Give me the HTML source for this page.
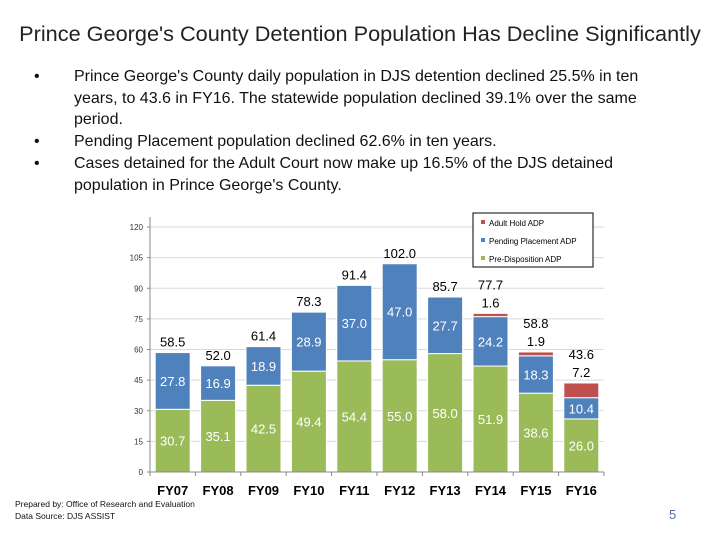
<!DOCTYPE html>
<html><head><meta charset="utf-8"><style>
body{margin:0;width:720px;height:540px;background:#fff;font-family:"Liberation Sans",sans-serif;overflow:hidden;position:relative}
.t{position:absolute;left:0;width:720px;top:21px;text-align:center;font-size:21.7px;color:#222;white-space:nowrap}
ul{position:absolute;left:30px;top:66px;margin:0;padding:0;list-style:none;width:630px;font-size:16px;line-height:21.7px;color:#111}
li{position:relative;padding-left:44px}
li:before{content:"•";position:absolute;left:4px}
.f{position:absolute;left:15px;font-size:8.5px;color:#111}
</style></head><body>
<div class="t">Prince George's County Detention Population Has Decline Significantly</div>
<ul>
<li>Prince George's County daily population in DJS detention declined 25.5% in ten years, to 43.6 in FY16. The statewide population declined 39.1% over the same period.</li>
<li>Pending Placement population declined 62.6% in ten years.</li>
<li>Cases detained for the Adult Court now make up 16.5% of the DJS detained population in Prince George's County.</li>
</ul>
<svg id="c" width="720" height="540" style="position:absolute;left:0;top:0"></svg>
<div class="f" style="top:499px">Prepared by: Office of Research and Evaluation</div>
<div class="f" style="top:511px">Data Source: DJS ASSIST</div>
<div style="position:absolute;left:669px;top:507px;font-size:13px;color:#4F6FA0">5</div>
<script>
const categories=["FY07","FY08","FY09","FY10","FY11","FY12","FY13","FY14","FY15","FY16"];
const preDisposition=[30.7,35.1,42.5,49.4,54.4,55.0,58.0,51.9,38.6,26.0];
const pendingPlacement=[27.8,16.9,18.9,28.9,37.0,47.0,27.7,24.2,18.3,10.4];
const adultHold=[0,0,0,0,0,0,0,1.6,1.9,7.2];
const yTicks=[0,15,30,45,60,75,90,105,120];
const NS="http://www.w3.org/2000/svg",svg=document.getElementById("c");
const x0=150,x1=604,y0=472,yTop=227,yMax=120;
const y=v=>y0-(v/yMax)*(y0-yTop);
const step=(x1-x0)/categories.length,bw=35;
const cx=i=>x0+step*(i+0.5);
function el(t,a,p){const e=document.createElementNS(NS,t);for(const k in a)e.setAttribute(k,a[k]);(p||svg).appendChild(e);return e}
function tx(s,a){const e=el("text",a);e.textContent=s;return e}
yTicks.forEach(v=>{
 if(v>0){const g=el("line",{x1:x0,x2:x1,y1:y(v),y2:y(v),stroke:"#d9d9d9","stroke-width":1});
 
 }
 const t=tx(String(v),{x:x0-7,y:y(v)+3,"font-size":8,"text-anchor":"end",fill:"#333","font-family":"Liberation Sans"});
 
 
});
const series=[[preDisposition,"#9BBB59"],[pendingPlacement,"#4F81BD"],[adultHold,"#C0504D"]];
categories.forEach((c,i)=>{
 let base=0;const left=cx(i)-bw/2;
 series.forEach(([arr,col],si)=>{
  const v=arr[i];if(!v)return;
  const r=el("rect",{x:left,y:y(base+v),width:bw,height:y(base)-y(base+v),fill:col,stroke:"#fff","stroke-width":1});
  
  
  if(si<2){const t=tx(v.toFixed(1),{x:cx(i),y:(y(base)+y(base+v))/2+5,"font-size":13,"text-anchor":"middle",fill:"#fff","font-family":"Liberation Sans"});
   
   }
  base+=v;
 });
 const total=preDisposition[i]+pendingPlacement[i]+adultHold[i];
 let ty=y(total)-6;
 if(adultHold[i]){const a=tx(adultHold[i].toFixed(1),{x:cx(i),y:y(total)-6,"font-size":13,"text-anchor":"middle",fill:"#000","font-family":"Liberation Sans"});
  
  
  ty=y(total)-24;}
 const t=tx(total.toFixed(1),{x:cx(i),y:ty,"font-size":13,"text-anchor":"middle",fill:"#000","font-family":"Liberation Sans"});
 
 
 const cl=tx(c,{x:cx(i),y:495,"font-size":13,"font-weight":"bold","text-anchor":"middle",fill:"#000","font-family":"Liberation Sans"});
 
 
});
el("line",{x1:x0,x2:x0,y1:yTop-10,y2:y0,stroke:"#888"});
el("line",{x1:x0,x2:x1,y1:y0,y2:y0,stroke:"#888"});
for(let i=0;i<=categories.length;i++)el("line",{x1:x0+step*i,x2:x0+step*i,y1:y0,y2:y0+4,stroke:"#888"});
yTicks.forEach(v=>el("line",{x1:x0-3,x2:x0,y1:y(v),y2:y(v),stroke:"#888"}));
const lg=el("g",{});


el("rect",{x:473,y:213,width:120,height:54,fill:"#fff",stroke:"#000"},lg);
[["Adult Hold ADP","#C0504D"],["Pending Placement ADP","#4F81BD"],["Pre-Disposition ADP","#9BBB59"]].forEach(([n,col],k)=>{
 el("rect",{x:481,y:220+k*18,width:4,height:4,fill:col},lg);
 const t=el("text",{x:489,y:226+k*18,"font-size":8,fill:"#000","font-family":"Liberation Sans"},lg);t.textContent=n;
 
 
});
</script>
</body></html>
